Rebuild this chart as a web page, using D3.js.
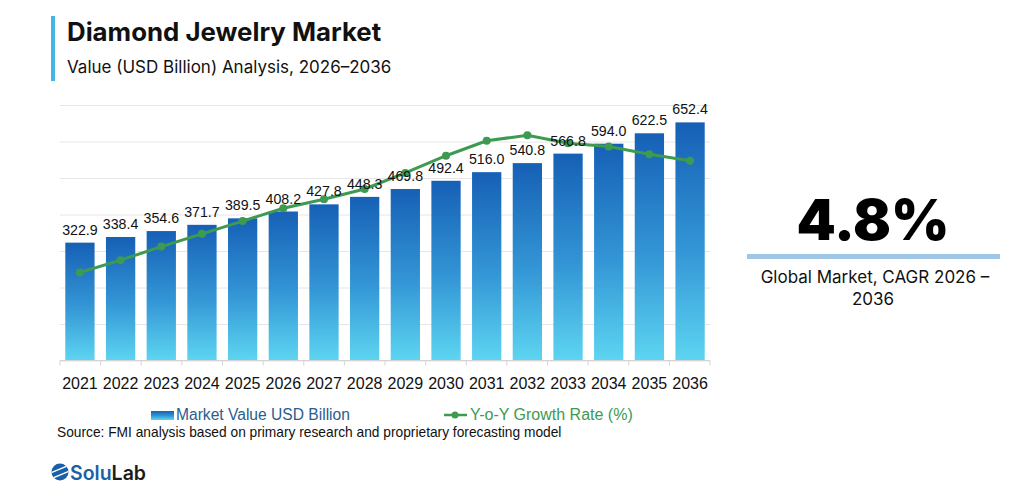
<!DOCTYPE html>
<html>
<head>
<meta charset="utf-8">
<script src="https://cdn.jsdelivr.net/npm/d3@7"></script>
<style>
  body { margin: 0; background: #fff; }
  svg { display: block; }
</style>
</head>
<body>
<div id="chart"></div>
<script>
// chart data
var years = ["2021","2022","2023","2024","2025","2026","2027","2028","2029","2030","2031","2032","2033","2034","2035","2036"];
var marketValue = [322.9, 338.4, 354.6, 371.7, 389.5, 408.2, 427.8, 448.3, 469.8, 492.4, 516.0, 540.8, 566.8, 594.0, 622.5, 652.4];
var growthRate = [2.41, 2.75, 3.12, 3.47, 3.82, 4.17, 4.42, 4.70, 5.14, 5.61, 6.02, 6.17, 5.95, 5.86, 5.65, 5.47];
var valueTicks = [0, 100, 200, 300, 400, 500, 600, 700];

var svgWidth = 1024;
var svgHeight = 498;

var margin = { top: 105, left: 60, right: 314, bottom: 137.5 };
var width = svgWidth - margin.left - margin.right;
var height = svgHeight - margin.top - margin.bottom;

var svg = d3.select("#chart")
  .append("svg")
  .attr("width", svgWidth)
  .attr("height", svgHeight);

var defs = svg.append("defs");
var grad = defs.append("linearGradient")
  .attr("id", "barGrad")
  .attr("x1", 0).attr("y1", 0).attr("x2", 0).attr("y2", 1);
grad.append("stop").attr("offset", "0%").attr("stop-color", "#1660b6");
grad.append("stop").attr("offset", "55%").attr("stop-color", "#3497d6");
grad.append("stop").attr("offset", "100%").attr("stop-color", "#5dd5f1");

var clip = defs.append("clipPath").attr("id", "logoClip");
clip.append("circle").attr("cx", 0).attr("cy", 0).attr("r", 8.5);

// title block
svg.append("rect")
  .attr("x", 51).attr("y", 16)
  .attr("width", 4).attr("height", 65)
  .attr("fill", "#45b6e8");

svg.append("text")
  .attr("x", 67).attr("y", 41)
  .attr("font-family", "Inter, 'Noto Sans', sans-serif")
  .attr("font-weight", 700)
  .attr("font-size", 25.8)
  .attr("fill", "#111")
  .text("Diamond Jewelry Market");

svg.append("text")
  .attr("x", 67).attr("y", 73)
  .attr("font-family", "Inter, 'Noto Sans', sans-serif")
  .attr("font-size", 17)
  .attr("fill", "#111")
  .text("Value (USD Billion) Analysis, 2026\u20132036");

var chartGroup = svg.append("g")
  .attr("transform", `translate(${margin.left}, ${margin.top})`);

// scales
var xBandScale = d3.scaleBand()
  .domain(years)
  .range([0, width])
  .paddingInner(0.28)
  .paddingOuter(0.13);

var yLinearScale = d3.scaleLinear()
  .domain([0, 700])
  .range([height, 0]);

var yGrowthScale = d3.scaleLinear()
  .domain([0, 7])
  .range([height, 0]);

// gridlines
chartGroup.append("g")
  .attr("class", "grid")
  .call(d3.axisLeft(yLinearScale).tickValues(valueTicks).tickSize(-width).tickFormat(""))
  .call(g => g.select(".domain").remove())
  .call(g => g.selectAll("line").attr("stroke", "#e6e6e6").attr("stroke-width", 1));

// bars
chartGroup.selectAll(".bar")
  .data(marketValue)
  .enter()
  .append("rect")
  .attr("class", "bar")
  .attr("x", (d, i) => xBandScale(years[i]))
  .attr("y", d => yLinearScale(d))
  .attr("width", xBandScale.bandwidth())
  .attr("height", d => height - yLinearScale(d))
  .attr("fill", "url(#barGrad)");

// x axis: tick marks at band boundaries
var bottomAxis = chartGroup.append("g")
  .attr("transform", `translate(0, ${height})`);

bottomAxis.append("line")
  .attr("x1", 0).attr("x2", width)
  .attr("stroke", "#d4d4d4");

var edges = d3.range(years.length + 1).map(i => i * width / years.length);
bottomAxis.selectAll(".tickmark")
  .data(edges)
  .enter()
  .append("line")
  .attr("x1", d => d).attr("x2", d => d)
  .attr("y1", 0).attr("y2", 5)
  .attr("stroke", "#d4d4d4");

bottomAxis.selectAll(".yearLabel")
  .data(years)
  .enter()
  .append("text")
  .attr("x", d => xBandScale(d) + xBandScale.bandwidth() / 2)
  .attr("y", 28)
  .attr("text-anchor", "middle")
  .attr("font-family", "'Liberation Sans', Arial, sans-serif")
  .attr("font-size", 16)
  .attr("fill", "#111")
  .text(d => d);

// growth line
var line = d3.line()
  .x((d, i) => xBandScale(years[i]) + xBandScale.bandwidth() / 2)
  .y(d => yGrowthScale(d));

chartGroup.append("path")
  .datum(growthRate)
  .attr("d", line)
  .attr("fill", "none")
  .attr("stroke", "#3d9a50")
  .attr("stroke-width", 3);

chartGroup.selectAll(".dot")
  .data(growthRate)
  .enter()
  .append("circle")
  .attr("cx", (d, i) => xBandScale(years[i]) + xBandScale.bandwidth() / 2)
  .attr("cy", d => yGrowthScale(d))
  .attr("r", 4)
  .attr("fill", "#3d9a50");

// value labels
chartGroup.selectAll(".valueLabel")
  .data(marketValue)
  .enter()
  .append("text")
  .attr("x", (d, i) => xBandScale(years[i]) + xBandScale.bandwidth() / 2)
  .attr("y", d => yLinearScale(d) - 8)
  .attr("text-anchor", "middle")
  .attr("font-family", "'Liberation Sans', Arial, sans-serif")
  .attr("font-size", 14.2)
  .attr("fill", "#111")
  .text(d => d.toFixed(1));

// legend
var legend = svg.append("g");
legend.append("rect")
  .attr("x", 151).attr("y", 411)
  .attr("width", 23).attr("height", 9)
  .attr("fill", "url(#barGrad)");
legend.append("text")
  .attr("x", 176).attr("y", 420)
  .attr("font-family", "'Liberation Sans', Arial, sans-serif")
  .attr("font-size", 15.6)
  .attr("fill", "#2b5d8c")
  .text("Market Value USD Billion");
legend.append("line")
  .attr("x1", 444).attr("x2", 467)
  .attr("y1", 415).attr("y2", 415)
  .attr("stroke", "#3d9a50")
  .attr("stroke-width", 2.5);
legend.append("circle")
  .attr("cx", 455).attr("cy", 415).attr("r", 3.5)
  .attr("fill", "#3d9a50");
legend.append("text")
  .attr("x", 470).attr("y", 420)
  .attr("font-family", "'Liberation Sans', Arial, sans-serif")
  .attr("font-size", 16)
  .attr("fill", "#3d9a50")
  .text("Y-o-Y Growth Rate (%)");

svg.append("text")
  .attr("x", 57).attr("y", 437)
  .attr("font-family", "'Liberation Sans', Arial, sans-serif")
  .attr("font-size", 13.75)
  .attr("fill", "#111")
  .text("Source: FMI analysis based on primary research and proprietary forecasting model");

// CAGR panel
svg.append("text")
  .attr("x", 873).attr("y", 240)
  .attr("text-anchor", "middle")
  .attr("font-family", "Inter, 'Noto Sans', sans-serif")
  .attr("font-weight", 900)
  .attr("font-size", 56)
  .attr("fill", "#000")
  .text("4.8%");

svg.append("rect")
  .attr("x", 747).attr("y", 254)
  .attr("width", 253).attr("height", 5)
  .attr("fill", "#9fc6e4");

svg.append("text")
  .attr("x", 875).attr("y", 283)
  .attr("text-anchor", "middle")
  .attr("font-family", "Inter, 'Noto Sans', sans-serif")
  .attr("font-size", 17)
  .attr("fill", "#111")
  .text("Global Market, CAGR 2026 \u2013");

svg.append("text")
  .attr("x", 873).attr("y", 305)
  .attr("text-anchor", "middle")
  .attr("font-family", "Inter, 'Noto Sans', sans-serif")
  .attr("font-size", 17)
  .attr("fill", "#111")
  .text("2036");

// logo: striped disc
var logo = svg.append("g").attr("transform", "translate(60, 472)");
var disc = logo.append("g").attr("clip-path", "url(#logoClip)");
disc.append("rect")
  .attr("x", -9).attr("y", -9).attr("width", 18).attr("height", 18)
  .attr("fill", "#1b5fa8");
disc.selectAll(".stripe")
  .data([-3, 3])
  .enter()
  .append("line")
  .attr("x1", -12).attr("x2", 12)
  .attr("y1", d => d + 5).attr("y2", d => d - 5)
  .attr("stroke", "#fff")
  .attr("stroke-width", 1.6);

var logoText = svg.append("text")
  .attr("x", 70).attr("y", 480)
  .attr("font-family", "Inter, 'Noto Sans', sans-serif")
  .attr("font-weight", 600)
  .attr("font-size", 19.5);
logoText.append("tspan").attr("fill", "#1b5fa8").text("Solu");
logoText.append("tspan").attr("fill", "#1c1c1c").text("Lab");
</script>
</body>
</html>
